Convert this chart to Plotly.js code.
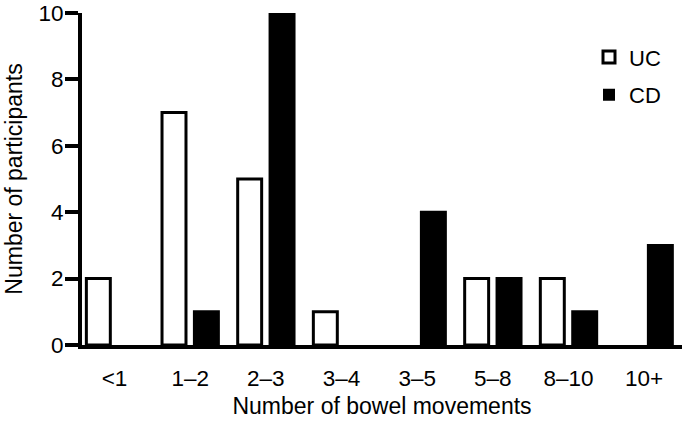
<!DOCTYPE html>
<html>
<head>
<meta charset="utf-8">
<script src="https://cdn.plot.ly/plotly-3.0.1.min.js"></script>
<style>
html,body{margin:0;padding:0;background:#fff;}
#chart{width:685px;height:433px;}
</style>
</head>
<body>
<div id="chart"></div>
<script>
var categories = ['<1', '1\u20132', '2\u20133', '3\u20134', '3\u20135', '5\u20138', '8\u201310', '10+'];
var ucValues = [2, 7, 5, 1, 0, 2, 2, 0];
var cdValues = [0, 1, 10, 0, 4, 2, 1, 3];
var seriesNames = ['UC', 'CD'];
var yTicks = [0, 2, 4, 6, 8, 10];

var FONT = 'Arial, "Liberation Sans", Helvetica, sans-serif';

function outlineWidths(vals) {
  return vals.map(function (v) { return v === 0 ? 0 : 3; });
}

var traces = [
  {
    type: 'bar', x: categories, y: ucValues, name: seriesNames[0], legendgroup: 'g1',
    marker: {color: '#ffffff', line: {color: '#000000', width: outlineWidths(ucValues)}},
    hoverinfo: 'x+y+name'
  },
  {
    type: 'bar', x: categories, y: cdValues, name: seriesNames[1], legendgroup: 'g2',
    marker: {color: '#000000', line: {color: '#000000', width: outlineWidths(cdValues)}},
    hoverinfo: 'x+y+name'
  }
];

var layout = {
  width: 685, height: 433,
  margin: {l: 82, r: 3, t: 13, b: 88, pad: 0},
  paper_bgcolor: '#ffffff', plot_bgcolor: '#ffffff',
  font: {family: FONT, size: 22, color: '#000000'},
  barmode: 'group',
  bargap: 0.144,
  bargroupgap: 0.26,
  showlegend: true,
  legend: {
    x: 0.845, y: 0.93, xanchor: 'left', yanchor: 'top',
    bgcolor: 'rgba(0,0,0,0)', borderwidth: 0,
    font: {family: FONT, size: 22, color: '#000000'},
    tracegroupgap: 6, itemwidth: 30
  },
  xaxis: {
    type: 'category',
    range: [-0.43, 7.5],
    showline: true, linecolor: '#000000', linewidth: 4,
    ticks: '', showgrid: false, zeroline: false,
    ticklabelstandoff: 10,
    tickfont: {family: FONT, size: 22.5, color: '#000000'},
    title: {text: 'Number of bowel movements', font: {family: FONT, size: 23, color: '#000000'}, standoff: 9},
    fixedrange: true
  },
  yaxis: {
    range: [0, 10],
    tickvals: yTicks, ticktext: yTicks.map(String),
    showline: true, linecolor: '#000000', linewidth: 4,
    ticks: 'outside', ticklen: 13, tickwidth: 4, tickcolor: '#000000',
    showgrid: false, zeroline: false,
    ticklabelstandoff: -3,
    tickfont: {family: FONT, size: 22.5, color: '#000000'},
    title: {text: 'Number of participants', font: {family: FONT, size: 23, color: '#000000'}, standoff: 10},
    fixedrange: true
  }
};

Plotly.newPlot('chart', traces, layout, {displayModeBar: false, staticPlot: true});
</script>
</body>
</html>
